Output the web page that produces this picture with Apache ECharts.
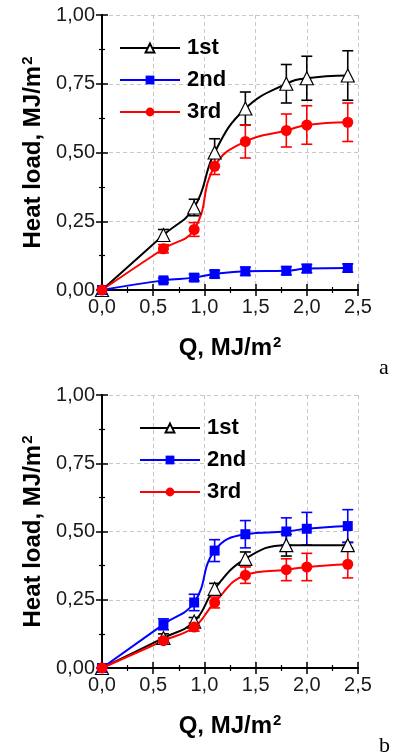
<!DOCTYPE html>
<html>
<head>
<meta charset="utf-8">
<script src="https://cdn.jsdelivr.net/npm/echarts@6/dist/echarts.min.js"></script>
<style>
  html, body { margin: 0; padding: 0; background: #fff; }
  #chart { width: 397px; height: 754px; }
</style>
</head>
<body>
<div id="chart"></div>
<script>
// panel a
const xA = [0, 0.6, 0.9, 1.1, 1.4, 1.8, 2.0, 2.4];
const a1st = [0, 0.20, 0.30, 0.50, 0.66, 0.75, 0.77, 0.78];
const a1stErr = [0, 0.02, 0.03, 0.05, 0.06, 0.07, 0.08, 0.09];
const a2nd = [0, 0.035, 0.045, 0.058, 0.068, 0.07, 0.078, 0.08];
const a2ndErr = [0, 0.008, 0.012, 0.013, 0.015, 0.015, 0.015, 0.015];
const a3rd = [0, 0.15, 0.22, 0.45, 0.54, 0.58, 0.60, 0.61];
const a3rdErr = [0, 0.015, 0.025, 0.03, 0.06, 0.06, 0.07, 0.07];

// panel b
const xB1 = [0, 0.6, 0.9, 1.1, 1.4, 1.8, 2.4];
const b1st = [0, 0.11, 0.17, 0.29, 0.40, 0.45, 0.45];
const b1stErr = [0, 0.015, 0.015, 0.02, 0.025, 0.04, 0.01];
const xB = [0, 0.6, 0.9, 1.1, 1.4, 1.8, 2.0, 2.4];
const b2nd = [0, 0.16, 0.24, 0.43, 0.49, 0.50, 0.51, 0.52];
const b2ndErr = [0, 0.02, 0.03, 0.04, 0.05, 0.05, 0.06, 0.06];
const b3rd = [0, 0.10, 0.15, 0.24, 0.34, 0.36, 0.37, 0.38];
const b3rdErr = [0, 0.01, 0.015, 0.02, 0.03, 0.04, 0.05, 0.05];

const names = ["1st", "2nd", "3rd"];
const colors = ["#000000", "#0000ff", "#ff0000"];
const yTicks = ["0,00", "0,25", "0,50", "0,75", "1,00"];
const xTicks = ["0,0", "0,5", "1,0", "1,5", "2,0", "2,5"];

const FONT = "Liberation Sans, Arial, sans-serif";

const chart = echarts.init(document.getElementById("chart"));

const pairs = (xs, ys) => xs.map((x, i) => [x, ys[i]]);
const errPairs = (xs, ys, es) => xs.map((x, i) => [x, ys[i], es[i]]);

const markerStyle = [
    {symbol: "triangle", symbolSize: 13, itemStyle: {color: "#fff", borderColor: "#000", borderWidth: 1.2}},
    {symbol: "rect", symbolSize: 10, itemStyle: {color: "#0000ff"}},
    {symbol: "circle", symbolSize: 11, itemStyle: {color: "#ff0000"}}
];

function lineSeries(k, grid, data) {
    return {
        type: "line",
        name: names[k],
        xAxisIndex: grid * 2,
        yAxisIndex: grid * 2,
        data: data,
        smooth: 0.45,
        symbol: markerStyle[k].symbol,
        symbolSize: markerStyle[k].symbolSize,
        itemStyle: markerStyle[k].itemStyle,
        lineStyle: {color: colors[k], width: 2},
        color: colors[k],
        z: 3
    };
}

function errSeries(k, grid, data) {
    return {
        type: "custom",
        name: names[k] + "-err",
        xAxisIndex: grid * 2,
        yAxisIndex: grid * 2,
        data: data,
        encode: {x: 0, y: 1},
        z: 2,
        silent: true,
        renderItem: function (params, api) {
            const x = api.value(0), y = api.value(1), e = api.value(2);
            if (!e) return null;
            const top = api.coord([x, y + e]);
            const bot = api.coord([x, y - e]);
            const w = 5.5;
            const style = {stroke: colors[k], lineWidth: 1.6};
            return {
                type: "group",
                children: [
                    {type: "line", shape: {x1: top[0], y1: top[1], x2: bot[0], y2: bot[1]}, style: style},
                    {type: "line", shape: {x1: top[0] - w, y1: top[1], x2: top[0] + w, y2: top[1]}, style: style},
                    {type: "line", shape: {x1: bot[0] - w, y1: bot[1], x2: bot[0] + w, y2: bot[1]}, style: style}
                ]
            };
        }
    };
}

const grids = [
    {left: 102, top: 15, width: 256, height: 275},
    {left: 102, top: 395, width: 256, height: 273}
];

const axisLine = {show: true, lineStyle: {color: "#000", width: 2}};
const tick = {show: true, inside: true, length: 6, lineStyle: {color: "#000", width: 1.5}};
const minor = {show: true, splitNumber: 2, length: 3, lineStyle: {color: "#000", width: 1.2}};
const grid = {show: true, lineStyle: {color: "#c8c8c8", type: [4, 3], width: 1}};
const labelStyle = {color: "#1a1a1a", fontFamily: FONT, fontSize: 20};
const nameRich = {
    t: {fontFamily: FONT, fontSize: 24, fontWeight: "bold", color: "#000"},
    s: {fontFamily: FONT, fontSize: 15, fontWeight: "bold", color: "#000", verticalAlign: "top", padding: [0, 0, 11, 1]}
};

const xAxes = [], yAxes = [];
[0, 1].forEach(g => {
    xAxes.push({
        type: "value", gridIndex: g, min: 0, max: 2.5, interval: 0.5,
        position: "bottom",
        axisLine: axisLine, axisTick: tick, minorTick: minor, splitLine: grid,
        axisLabel: {...labelStyle, margin: 7, formatter: v => xTicks[Math.round(v / 0.5)]},
        name: "{t|Q, MJ/m}{s|2}", nameLocation: "middle", nameGap: 45,
        nameTextStyle: {rich: nameRich}
    });
    xAxes.push({
        type: "value", gridIndex: g, min: 0, max: 2.5, interval: 0.5,
        position: "top",
        axisLine: axisLine, axisTick: tick, minorTick: minor, splitLine: {show: false},
        axisLabel: {show: false}
    });
    yAxes.push({
        type: "value", gridIndex: g, min: 0, max: 1, interval: 0.25,
        position: "left",
        axisLine: axisLine, axisTick: tick, minorTick: minor, splitLine: grid,
        axisLabel: {...labelStyle, margin: 7, formatter: v => yTicks[Math.round(v / 0.25)]},
        name: "{t|Heat load, MJ/m}{s|2}", nameLocation: "middle", nameGap: 52,
        nameTextStyle: {rich: nameRich}
    });
    yAxes.push({
        type: "value", gridIndex: g, min: 0, max: 1, interval: 0.25,
        position: "right",
        axisLine: axisLine, axisTick: tick, minorTick: minor, splitLine: {show: false},
        axisLabel: {show: false}
    });
});

const series = [
    errSeries(0, 0, errPairs(xA, a1st, a1stErr)),
    errSeries(1, 0, errPairs(xA, a2nd, a2ndErr)),
    errSeries(2, 0, errPairs(xA, a3rd, a3rdErr)),
    lineSeries(0, 0, pairs(xA, a1st)),
    lineSeries(1, 0, pairs(xA, a2nd)),
    lineSeries(2, 0, pairs(xA, a3rd)),
    errSeries(0, 1, errPairs(xB1, b1st, b1stErr)),
    errSeries(1, 1, errPairs(xB, b2nd, b2ndErr)),
    errSeries(2, 1, errPairs(xB, b3rd, b3rdErr)),
    lineSeries(0, 1, pairs(xB1, b1st)),
    lineSeries(1, 1, pairs(xB, b2nd)),
    lineSeries(2, 1, pairs(xB, b3rd))
];

const legendBase = {
    orient: "vertical",
    data: names,
    itemWidth: 60,
    itemHeight: 11,
    itemGap: 10,
    selectedMode: false,
    textStyle: {fontFamily: FONT, fontSize: 22, fontWeight: "bold", color: "#000", padding: [0, 0, 0, 2]}
};

chart.setOption({
    animation: false,
    backgroundColor: "#fff",
    grid: grids,
    xAxis: xAxes,
    yAxis: yAxes,
    legend: [
        {...legendBase, left: 114, top: 32},
        {...legendBase, left: 134, top: 412}
    ],
    graphic: [
        {type: "text", left: 379, top: 357, style: {text: "a", font: "22px Liberation Serif, Times New Roman, serif", fill: "#000"}},
        {type: "text", left: 379, top: 735, style: {text: "b", font: "22px Liberation Serif, Times New Roman, serif", fill: "#000"}}
    ],
    series: series
});
</script>
</body>
</html>
